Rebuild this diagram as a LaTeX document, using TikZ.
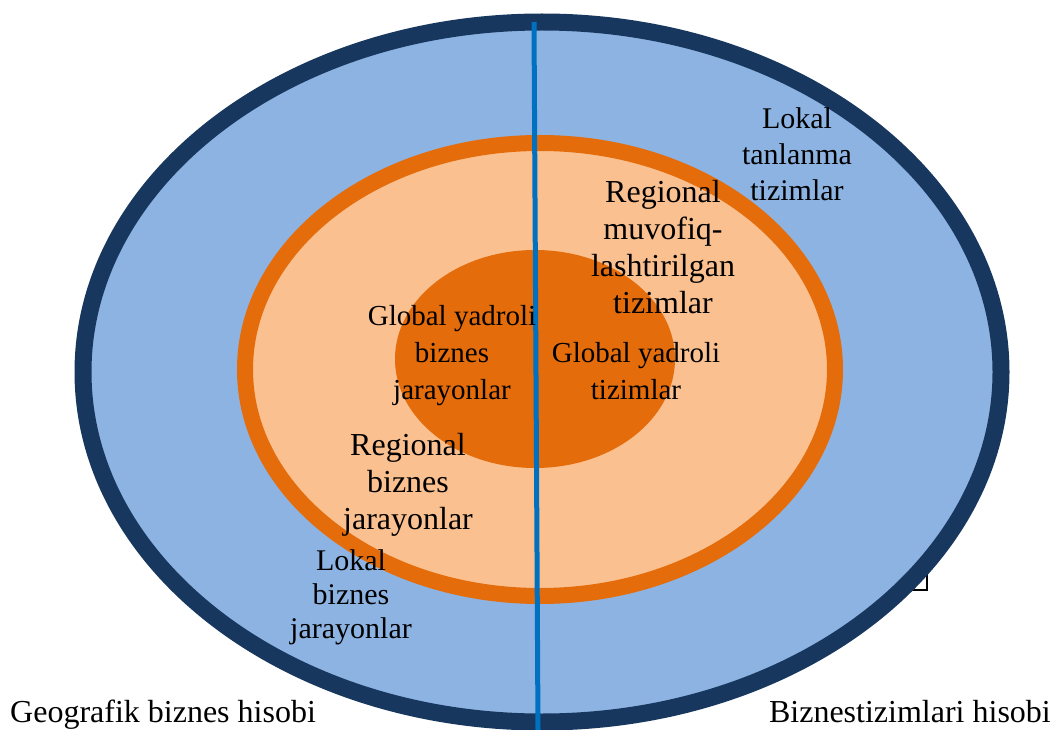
\documentclass[tikz,border=0pt]{standalone}
\usepackage{fontspec}
\setmainfont{Liberation Serif}
\definecolor{ringnavy}{HTML}{17375E}
\definecolor{ringblue}{HTML}{8DB3E2}
\definecolor{ringorange}{HTML}{E46C0A}
\definecolor{ringpeach}{HTML}{FAC090}
\definecolor{splitblue}{HTML}{0070C0}
\usetikzlibrary{positioning}

\begin{document}
\begin{tikzpicture}[x=1pt, y=-1pt,
  lbl/.style={align=center, inner sep=0pt, font=\fontsize{30}{36}\selectfont},
  biglbl/.style={align=center, inner sep=0pt, font=\fontsize{32}{37}\selectfont},
  glbl/.style={align=center, inner sep=0pt, font=\fontsize{29}{37}\selectfont}
]
  \useasboundingbox (0,0) rectangle (1055,730);
  \draw[black, line width=1.5pt] (911,575) rectangle (927,590);
  \draw[ringnavy, fill=ringblue, line width=17pt] (542,372) ellipse [x radius=459pt, y radius=350pt];
  \draw[ringorange, fill=ringpeach, line width=16pt] (540,369.5) ellipse [x radius=295pt, y radius=226.5pt];
  \fill[ringorange] (535,359) ellipse [x radius=140pt, y radius=109pt];
  \coordinate (top) at (534,22);
  \coordinate (bottom) at (538,730);
  \draw[splitblue, line width=5pt] (top) -- (bottom);
  \node[lbl] (loksys) at (797,154) {Lokal\\tanlanma\\tizimlar};
  \node[biglbl] (regsys) at (663,247) {Regional\\muvofiq-\\lashtirilgan\\tizimlar};
  \node[glbl] (globproc) at (452,356) {Global yadroli\\biznes\\jarayonlar};
  \node[glbl] (globsys) at (636,371) {Global yadroli\\tizimlar};
  \node[biglbl] (regproc) at (408,485) {Regional\\biznes\\jarayonlar};
  \node[lbl, font=\fontsize{30}{34}\selectfont] (lokproc) at (351,597) {Lokal\\biznes\\jarayonlar};
  \node[biglbl, anchor=base west] (geo) at (10,722) {Geografik biznes hisobi};
  \node[biglbl, anchor=base east] (bsys) at (1051,722) {Biznestizimlari hisobi};
\end{tikzpicture}
\end{document}
